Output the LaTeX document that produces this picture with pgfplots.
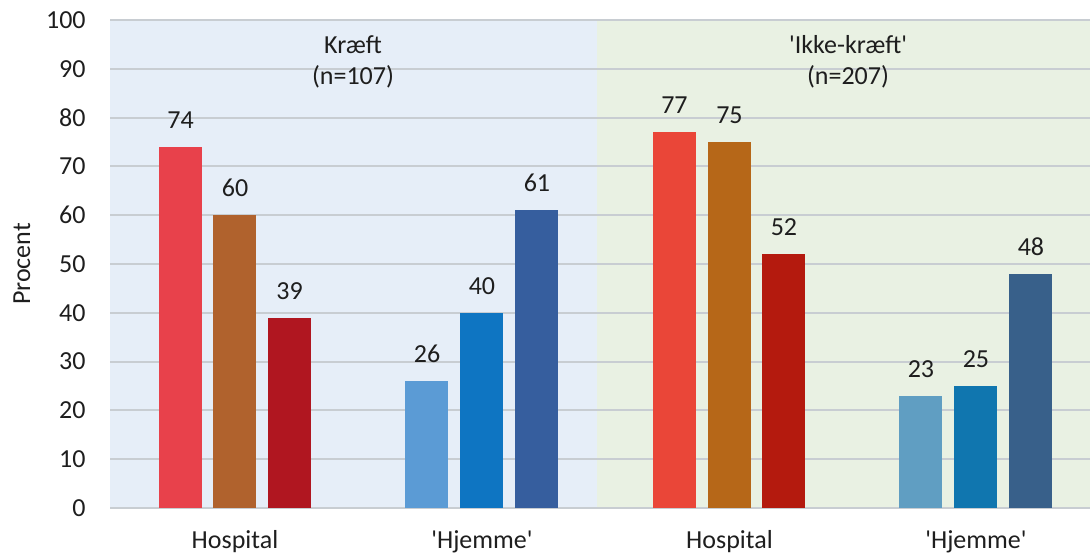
\documentclass[border=0pt]{standalone}
\usepackage{fontspec}
\setmainfont{Carlito}
\usepackage{pgfplots}
\pgfplotsset{compat=1.18}
\definecolor{bgblue}{RGB}{230,238,248}
\definecolor{bggreen}{RGB}{233,241,227}
\definecolor{gridc}{RGB}{200,205,210}
\definecolor{txt}{RGB}{30,30,30}
\definecolor{ca}{RGB}{232,65,75}
\definecolor{cb}{RGB}{176,98,45}
\definecolor{cc}{RGB}{176,22,32}
\definecolor{cd}{RGB}{91,155,213}
\definecolor{ce}{RGB}{14,117,194}
\definecolor{cf}{RGB}{54,94,158}
\definecolor{cg}{RGB}{234,70,56}
\definecolor{ch}{RGB}{182,103,24}
\definecolor{ci}{RGB}{180,26,14}
\definecolor{cj}{RGB}{96,158,194}
\definecolor{ck}{RGB}{16,118,175}
\definecolor{cl}{RGB}{56,96,138}
\newcommand{\fs}{\fontsize{13bp}{15.6bp}\selectfont}
\begin{document}
\begin{tikzpicture}
\begin{axis}[
  set layers,
  scale only axis, width=490bp, height=244bp,
  xmin=110, xmax=1090, ymin=0, ymax=100,
  ytick={0,10,...,100},
  xtick={235,482,729.5,976},
  xticklabels={Hospital,\textquotesingle Hjemme\textquotesingle,Hospital,\textquotesingle Hjemme\textquotesingle},
  ymajorgrids, grid style={line width=1bp, color=gridc},
  axis x line*=bottom, axis y line*=left,
  y axis line style={draw=none},
  x axis line style={draw=gridc, line width=1bp},
  major tick length=0pt,
  /pgf/number format/assume math mode=true,
  tick label style={font=\fs, text=txt},
  yticklabel style={inner sep=0pt, xshift=-12bp},
  xticklabel style={inner sep=0pt, yshift=-11bp},
  ylabel={Procent},
  every axis y label/.style={at={(rel axis cs:0,0.5)}, xshift=-44bp, rotate=90, anchor=center, font=\fs, text=txt},
  mybar/.style={ybar, bar width=43, bar shift=0pt, draw=none, fill=#1,
    nodes near coords, every node near coord/.style={font=\fs, text=txt, inner sep=0pt, anchor=south, yshift=9bp}},
]
\begin{pgfonlayer}{axis background}
\fill[bgblue] (axis cs:110,0) rectangle (axis cs:597,100);
\fill[bggreen] (axis cs:597,0) rectangle (axis cs:1090,100);
\end{pgfonlayer}
\addplot[mybar=ca] coordinates {(180.5,74)};
\addplot[mybar=cb] coordinates {(235,60)};
\addplot[mybar=cc] coordinates {(289.5,39)};
\addplot[mybar=cd] coordinates {(427,26)};
\addplot[mybar=ce] coordinates {(482,40)};
\addplot[mybar=cf] coordinates {(537,61)};
\addplot[mybar=cg] coordinates {(674.5,77)};
\addplot[mybar=ch] coordinates {(729.5,75)};
\addplot[mybar=ci] coordinates {(784,52)};
\addplot[mybar=cj] coordinates {(921,23)};
\addplot[mybar=ck] coordinates {(976,25)};
\addplot[mybar=cl] coordinates {(1031,48)};
\node[anchor=base, font=\fs, text=txt] at (axis cs:353,93.2) {Kræft};
\node[anchor=base, font=\fs, text=txt] at (axis cs:353,86.7) {(n=107)};
\node[anchor=base, font=\fs, text=txt] at (axis cs:848,93.2) {\textquotesingle Ikke-kræft\textquotesingle};
\node[anchor=base, font=\fs, text=txt] at (axis cs:848,86.7) {(n=207)};
\end{axis}
\pgfresetboundingbox
\path (current axis.south west) ++(-55bp,-23.5bp) rectangle ++(545bp,277.5bp);
\end{tikzpicture}
\end{document}
